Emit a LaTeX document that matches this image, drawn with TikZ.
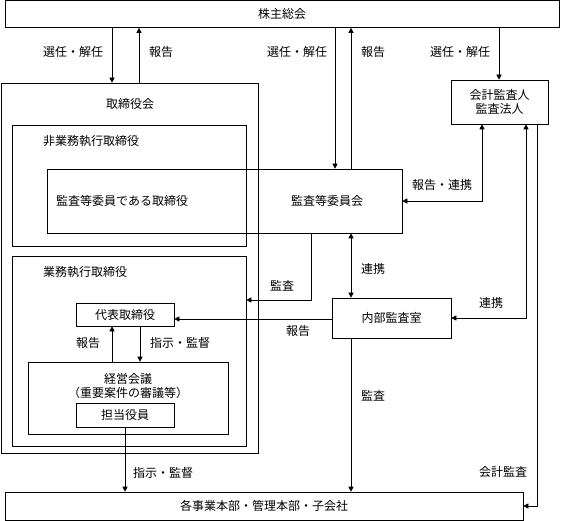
\documentclass[tikz,border=0pt]{standalone}
\usepackage{fontspec}
\setmainfont{Noto Sans CJK JP}
\usetikzlibrary{arrows.meta}

\tikzset{
  box/.style={draw, line width=0.6pt, inner sep=0pt, align=center},
  lbl/.style={inner sep=0pt},
  link/.style={line width=0.6pt},
  arr/.style={link, -{Triangle[length=5pt,width=5pt]}},
  darr/.style={link, {Triangle[length=5pt,width=5pt]}-{Triangle[length=5pt,width=5pt]}}
}

\begin{document}
\begin{tikzpicture}[x=1pt, y=-1pt, every node/.style={font=\fontsize{12pt}{14pt}\selectfont}]
\useasboundingbox (0,0) rectangle (562,521);

% boxes
\node[box, minimum width=554, minimum height=27] (soukai) at (282,14) {株主総会};
\node[box, minimum width=97, minimum height=44] (kansanin) at (499.5,102) {会計監査人\\監査法人};
\node[box, minimum width=257, minimum height=370] (torikai) at (129.5,268) {};
\node[lbl] (torikailbl) at (130,104) {取締役会};
\node[box, minimum width=234, minimum height=121] (higyomu) at (129,185.5) {};
\node[lbl, anchor=west] (higyomulbl) at (43,141) {非業務執行取締役};
\node[box, minimum width=355, minimum height=64] (iinkai) at (224.5,201) {};
\node[lbl, anchor=west] (iintori) at (56,201) {監査等委員である取締役};
\node[lbl] (iinkailbl) at (327,201) {監査等委員会};
\node[box, minimum width=234, minimum height=190] (gyomu) at (129,351) {};
\node[lbl, anchor=west] (gyomulbl) at (43,272) {業務執行取締役};
\node[box, minimum width=98, minimum height=23] (daihyo) at (125,314.5) {代表取締役};
\node[box, minimum width=200, minimum height=72] (keiei) at (128,398) {};
\node[lbl] (keieilbl) at (128,379) {経営会議};
\node[lbl] (keieisub) at (128,393) {（重要案件の審議等）};
\node[box, minimum width=98, minimum height=24] (tanto) at (125,415) {担当役員};
\node[box, minimum width=119, minimum height=40] (naibu) at (391.5,318) {内部監査室};
\node[box, minimum width=518, minimum height=28] (jigyo) at (264,506) {各事業本部・管理本部・子会社};

% connectors
\draw[arr] (112,0 |- soukai.south) -- (112,0 |- torikai.north);
\draw[arr] (139,0 |- torikai.north) -- (139,0 |- soukai.south);
\draw[arr] (335,0 |- soukai.south) -- (335,0 |- iinkai.north);
\draw[arr] (351,0 |- iinkai.north) -- (351,0 |- soukai.south);
\draw[arr] (499,0 |- soukai.south) -- (499,0 |- kansanin.north);
\draw[darr] (482,0 |- kansanin.south) |- (iinkai.east);
\draw[darr] (526,0 |- kansanin.south) |- (naibu.east);
\draw[arr] (537,0 |- kansanin.south) |- (jigyo.east);
\draw[darr] (351,0 |- iinkai.south) -- (351,0 |- naibu.north);
\draw[arr] (311,0 |- iinkai.south) |- (gyomu.east |- 0,300);
\draw[arr] (naibu.west |- 0,319) -- (daihyo.east |- 0,319);
\draw[arr] (112,0 |- keiei.north) -- (112,0 |- daihyo.south);
\draw[arr] (140,0 |- daihyo.south) -- (140,0 |- keiei.north);
\draw[arr] (tanto.south) -- (tanto.south |- jigyo.north);
\draw[arr] (351,0 |- naibu.south) -- (351,0 |- jigyo.north);

% connector labels
\node[lbl] (l1) at (73,52) {選任・解任};
\node[lbl] (l2) at (161,52) {報告};
\node[lbl] (l3) at (297,52) {選任・解任};
\node[lbl] (l4) at (373,52) {報告};
\node[lbl] (l5) at (460,52) {選任・解任};
\node[lbl] (l6) at (442,185) {報告・連携};
\node[lbl] (l7) at (491,303) {連携};
\node[lbl] (l8) at (503,472) {会計監査};
\node[lbl] (l9) at (373,269) {連携};
\node[lbl] (l10) at (282,286) {監査};
\node[lbl] (l11) at (298,331) {報告};
\node[lbl] (l12) at (88,343) {報告};
\node[lbl] (l13) at (180,343) {指示・監督};
\node[lbl] (l14) at (163,473) {指示・監督};
\node[lbl] (l15) at (373,396) {監査};

\end{tikzpicture}
\end{document}
